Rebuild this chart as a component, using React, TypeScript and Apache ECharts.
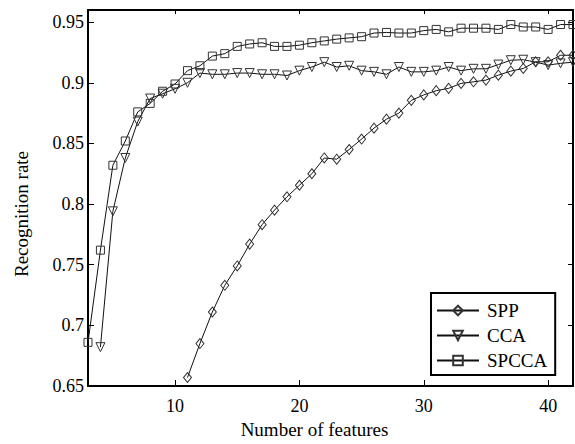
import React, { useEffect, useRef } from "react";
import * as echarts from "echarts";

const features = [3, 4, 5, 6, 7, 8, 9, 10, 11, 12, 13, 14, 15, 16, 17, 18, 19, 20, 21, 22, 23, 24, 25, 26, 27, 28, 29, 30, 31, 32, 33, 34, 35, 36, 37, 38, 39, 40, 41, 42];

const sppRate = [null, null, null, null, null, null, null, null,
  0.657, 0.685, 0.711, 0.733, 0.749, 0.767, 0.783, 0.795, 0.806, 0.8155,
  0.825, 0.838, 0.837, 0.845, 0.8536, 0.8626, 0.870, 0.875, 0.8855, 0.890,
  0.8935, 0.8954, 0.8995, 0.9008, 0.9022, 0.9063, 0.9096, 0.9118, 0.9173, 0.9173,
  0.9227, 0.9227];

const ccaRate = [null,
  0.682, 0.794, 0.838, 0.868, 0.887, 0.891, 0.895, 0.900, 0.908, 0.907,
  0.907, 0.908, 0.908, 0.907, 0.907, 0.906, 0.910, 0.913, 0.917, 0.913,
  0.914, 0.910, 0.909, 0.907, 0.913, 0.909, 0.909, 0.910, 0.913, 0.910,
  0.9115, 0.9115, 0.915, 0.9186, 0.919, 0.917, 0.9146, 0.916, 0.917];

const spccaRate = [
  0.686, 0.762, 0.832, 0.852, 0.876, 0.883, 0.893, 0.899, 0.910, 0.914,
  0.922, 0.924, 0.930, 0.932, 0.933, 0.930, 0.930, 0.931, 0.933, 0.9345,
  0.936, 0.937, 0.938, 0.941, 0.9415, 0.941, 0.941, 0.943, 0.944, 0.942,
  0.945, 0.945, 0.945, 0.944, 0.948, 0.946, 0.946, 0.944, 0.948, 0.948];

const xTicks = [10, 20, 30, 40];
const seriesNames = ["SPP", "CCA", "SPCCA"];

const FONT = "Liberation Serif, serif";

function pairs(vals: (number | null)[]) {
  const out: number[][] = [];
  vals.forEach((v, i) => {
    if (v !== null) out.push([features[i], v]);
  });
  return out;
}

export default function App() {
  const ref = useRef<HTMLDivElement>(null);
  useEffect(() => {
    if (!ref.current) return;
    const chart = echarts.init(ref.current, null, { renderer: "svg" });
    const markerStyle = {
      color: "rgba(255,255,255,0)",
      borderColor: "#333",
      borderWidth: 1,
    };
    const lineStyle = { color: "#111", width: 1 };
    const axisLine = { show: true, lineStyle: { color: "#000", width: 2 } };
    chart.setOption({
      animation: false,
      backgroundColor: "#fff",
      textStyle: { fontFamily: FONT },
      grid: { left: 88, right: 2, top: 10, bottom: 58, containLabel: false },
      xAxis: [
        {
          type: "value",
          min: 3,
          max: 42,
          position: "bottom",
          name: "Number of features",
          nameLocation: "middle",
          nameGap: 33,
          nameTextStyle: { fontFamily: FONT, fontSize: 19, color: "#000", padding: [0, 32, 0, 0] },
          axisLine,
          axisTick: { inside: true, length: 6, customValues: xTicks, lineStyle: { color: "#000" } },
          axisLabel: { customValues: xTicks, fontFamily: FONT, fontSize: 18, color: "#000", margin: 11 },
          splitLine: { show: false },
        },
        {
          type: "value",
          min: 3,
          max: 42,
          position: "top",
          axisLine,
          axisTick: { inside: true, length: 4, customValues: xTicks, lineStyle: { color: "#000" } },
          axisLabel: { show: false },
          splitLine: { show: false },
        },
      ],
      yAxis: [
        {
          type: "value",
          min: 0.65,
          max: 0.96,
          interval: 0.05,
          position: "left",
          name: "Recognition rate",
          nameLocation: "middle",
          nameGap: 57,
          nameTextStyle: { fontFamily: FONT, fontSize: 19, color: "#000", padding: [0, 32, 0, 0] },
          axisLine,
          axisTick: { inside: true, length: 6, lineStyle: { color: "#000" } },
          axisLabel: { fontFamily: FONT, fontSize: 18, color: "#000", margin: 4, showMaxLabel: false },
          splitLine: { show: false },
        },
        {
          type: "value",
          min: 0.65,
          max: 0.96,
          interval: 0.05,
          position: "right",
          axisLine,
          axisTick: { inside: true, length: 5, lineStyle: { color: "#000" } },
          axisLabel: { show: false },
          splitLine: { show: false },
        },
      ],
      legend: {
        orient: "vertical",
        left: 431,
        top: 293,
        width: 123,
        padding: [8, 8, 5, 5],
        itemGap: 6,
        itemWidth: 42,
        itemHeight: 12,
        backgroundColor: "#fff",
        borderColor: "#000",
        borderWidth: 2,
        borderRadius: 0,
        textStyle: { fontFamily: FONT, fontSize: 19, color: "#000", padding: [0, 0, 0, 3] },
        data: seriesNames,
      },
      series: [
        {
          name: seriesNames[0],
          type: "line",
          data: pairs(sppRate),
          symbol: "diamond",
          symbolSize: [8, 10],
          showAllSymbol: true,
          lineStyle,
          itemStyle: markerStyle,
          clip: true,
        },
        {
          name: seriesNames[1],
          type: "line",
          data: pairs(ccaRate),
          symbol: "triangle",
          symbolRotate: 180,
          symbolSize: 9,
          showAllSymbol: true,
          lineStyle,
          itemStyle: markerStyle,
          clip: true,
        },
        {
          name: seriesNames[2],
          type: "line",
          data: pairs(spccaRate),
          symbol: "rect",
          symbolSize: 8,
          showAllSymbol: true,
          lineStyle,
          itemStyle: markerStyle,
          clip: true,
        },
      ],
    });
    return () => chart.dispose();
  }, []);
  return (
    <div
      ref={ref}
      style={{ position: "fixed", left: 0, top: 0, width: 575, height: 444, background: "#fff" }}
    />
  );
}
